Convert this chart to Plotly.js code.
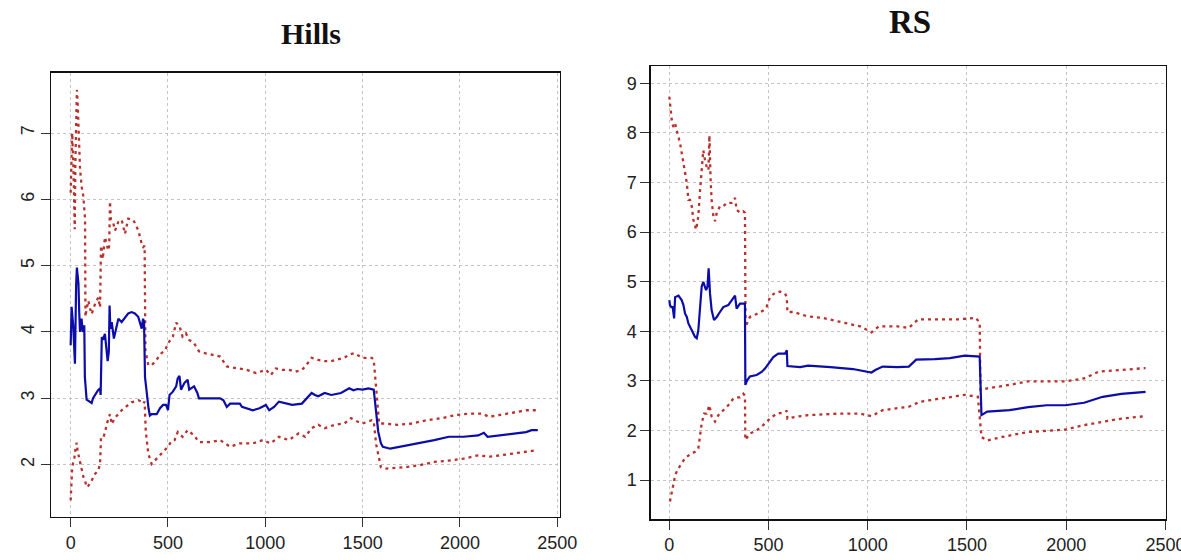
<!DOCTYPE html>
<html>
<head>
<meta charset="utf-8">
<script src="https://cdn.plot.ly/plotly-3.0.1.min.js"></script>
<style>html,body{margin:0;padding:0;background:#fff;}#chart{width:1181px;height:560px;}</style>
</head>
<body>
<div id="chart"></div>
<script>
// ---------- Hills panel ----------
const panelTitles = ["Hills", "RS"];
const xTickVals = [0, 500, 1000, 1500, 2000, 2500];
const hillsYTicks = [2, 3, 4, 5, 6, 7];
const rsYTicks = [1, 2, 3, 4, 5, 6, 7, 8, 9];

const hillsEstX = [0,2,5,10,13,22,24,28,32,36,40,44,48,56,62,70,73,82,95,108,115,125,140,151,154,160,168,176,183,190,196,200,204,211,222,236,245,262,279,296,313,330,347,358,365,372,377,382,390,400,407,416,442,459,475,490,500,508,525,542,550,559,567,584,601,609,634,651,659,700,740,768,785,802,819,869,880,903,936,970,1003,1020,1045,1070,1104,1138,1188,1205,1238,1255,1272,1305,1339,1389,1431,1453,1473,1500,1530,1557,1566,1580,1594,1604,1642,1680,1717,1792,1868,1943,2019,2094,2123,2142,2208,2283,2340,2368,2400];
const hillsEstY = [3.8,4.15,4.38,4.2,4.1,3.52,4.2,4.7,4.97,4.85,4.73,4.3,4.0,4.2,4.0,4.1,3.32,2.98,2.96,2.93,3.0,3.05,3.12,3.15,3.05,3.92,3.9,3.97,3.7,3.56,3.7,4.4,4.05,4.15,3.9,4.1,4.2,4.15,4.22,4.28,4.3,4.28,4.23,4.12,4.05,4.2,4.15,3.32,3.07,2.85,2.74,2.76,2.76,2.85,2.9,2.9,2.82,3.05,3.1,3.18,3.3,3.34,3.13,3.23,3.28,3.13,3.18,3.08,3.0,3.0,2.99,3.0,2.97,2.87,2.92,2.92,2.87,2.85,2.82,2.85,2.9,2.82,2.87,2.95,2.92,2.9,2.92,2.97,3.08,3.05,3.03,3.08,3.05,3.08,3.15,3.12,3.14,3.13,3.15,3.13,2.9,2.5,2.32,2.27,2.24,2.26,2.29,2.32,2.37,2.42,2.42,2.44,2.48,2.42,2.44,2.47,2.49,2.52,2.52];

const hillsUpX = [0,3,8,14,21,24,28,32,36,39,44,48,56,65,74,76,82,91,100,108,125,142,151,156,165,176,193,198,202,207,219,228,245,262,279,296,322,348,365,373,380,384,399,416,433,450,466,485,500,525,542,559,575,592,609,634,659,690,718,768,802,852,903,953,1003,1028,1054,1087,1121,1154,1188,1205,1238,1272,1305,1339,1372,1406,1431,1456,1500,1547,1557,1566,1585,1604,1679,1755,1830,1906,1981,2057,2113,2151,2208,2283,2340,2400];
const hillsUpY = [6.1,6.6,7.0,6.5,5.55,6.5,7.3,7.65,7.45,7.2,6.8,6.47,6.2,6.05,5.7,4.23,4.35,4.47,4.35,4.27,4.42,4.52,4.37,5.3,5.1,5.43,5.23,5.3,5.97,5.69,5.64,5.53,5.66,5.69,5.48,5.71,5.69,5.53,5.33,5.28,5.3,3.72,3.5,3.5,3.55,3.62,3.68,3.72,3.83,3.93,4.14,4.09,3.93,3.98,3.88,3.83,3.71,3.68,3.66,3.63,3.48,3.45,3.43,3.38,3.43,3.35,3.45,3.43,3.43,3.4,3.43,3.48,3.61,3.58,3.56,3.56,3.58,3.61,3.66,3.68,3.61,3.61,3.58,3.3,2.62,2.62,2.6,2.62,2.67,2.7,2.75,2.77,2.77,2.72,2.75,2.78,2.82,2.82];

const hillsLoX = [0,2,8,14,19,25,31,36,39,48,56,65,74,82,91,100,108,125,142,151,156,168,178,185,195,202,211,228,245,262,279,313,348,365,373,380,386,399,416,433,459,485,500,519,534,550,575,601,634,659,718,768,819,869,936,987,1028,1070,1121,1171,1205,1238,1272,1305,1356,1406,1440,1473,1500,1547,1557,1570,1594,1623,1717,1792,1868,1943,2019,2094,2151,2208,2283,2340,2400];
const hillsLoY = [1.46,1.6,1.95,2.05,2.1,2.25,2.33,2.2,2.16,2.06,1.91,1.82,1.76,1.66,1.68,1.72,1.76,1.86,1.91,2.01,2.41,2.41,2.5,2.61,2.72,2.76,2.61,2.71,2.76,2.82,2.86,2.94,2.97,2.95,2.92,2.95,2.5,2.16,2.01,2.06,2.14,2.21,2.27,2.36,2.37,2.49,2.42,2.52,2.44,2.34,2.34,2.37,2.27,2.32,2.32,2.37,2.32,2.42,2.37,2.47,2.42,2.55,2.6,2.55,2.6,2.62,2.7,2.65,2.62,2.67,2.65,2.3,1.96,1.94,1.96,1.99,2.04,2.06,2.09,2.14,2.12,2.14,2.17,2.19,2.22];

// ---------- RS panel ----------
const rsEstX = [0,3,10,17,24,27,29,46,62,71,79,88,96,113,129,138,146,155,163,171,185,192,198,205,213,225,239,255,272,297,314,331,339,356,381,383,393,406,440,465,482,499,524,549,583,592,595,659,699,812,925,1019,1038,1075,1150,1207,1244,1338,1414,1489,1564,1573,1602,1714,1808,1902,1996,2090,2184,2278,2400];
const rsEstY = [4.63,4.53,4.49,4.49,4.26,4.6,4.69,4.72,4.63,4.53,4.36,4.29,4.16,4.02,3.89,3.86,4.02,4.49,4.9,5.0,4.83,4.9,5.27,4.76,4.43,4.23,4.29,4.39,4.49,4.53,4.63,4.72,4.46,4.56,4.56,2.92,3.02,3.09,3.12,3.18,3.25,3.35,3.48,3.55,3.55,3.62,3.3,3.28,3.31,3.28,3.24,3.17,3.22,3.29,3.28,3.29,3.43,3.44,3.46,3.51,3.49,2.31,2.38,2.41,2.47,2.51,2.51,2.56,2.68,2.74,2.78];

const rsUpX = [0,8,12,20,29,34,37,54,71,88,96,104,113,121,135,146,155,163,171,180,188,197,202,208,213,222,230,239,255,272,289,314,331,339,356,373,381,384,406,440,473,490,507,533,558,583,592,595,625,699,774,850,962,1019,1056,1150,1207,1254,1338,1451,1545,1564,1568,1602,1714,1808,1902,1996,2090,2165,2278,2372,2400];
const rsUpY = [8.73,8.4,8.26,8.12,8.19,8.1,8.06,7.79,7.39,6.99,6.65,6.65,6.52,6.25,6.05,6.32,6.85,7.25,7.65,7.45,7.32,7.25,7.95,7.05,6.65,6.32,6.22,6.39,6.52,6.52,6.59,6.59,6.69,6.45,6.39,6.42,6.39,4.09,4.29,4.35,4.42,4.49,4.69,4.78,4.8,4.76,4.69,4.39,4.39,4.3,4.27,4.2,4.1,3.98,4.1,4.1,4.07,4.24,4.24,4.24,4.27,4.17,2.82,2.85,2.92,2.99,2.99,2.99,3.05,3.19,3.22,3.26,3.26];

const rsLoX = [3,17,30,46,62,79,104,129,146,155,163,175,188,202,213,230,247,272,297,322,339,356,373,381,383,406,440,473,507,540,583,592,595,642,699,850,962,1019,1075,1207,1263,1376,1489,1555,1573,1602,1677,1808,1902,1996,2090,2184,2278,2400];
const rsLoY = [0.57,0.84,1.11,1.24,1.34,1.44,1.52,1.57,1.64,1.94,2.14,2.34,2.34,2.51,2.28,2.18,2.31,2.41,2.51,2.64,2.67,2.67,2.74,2.7,1.81,1.94,2.0,2.11,2.24,2.34,2.37,2.4,2.24,2.28,2.31,2.34,2.34,2.29,2.41,2.48,2.58,2.65,2.72,2.68,1.87,1.8,1.87,1.97,2.0,2.02,2.11,2.18,2.24,2.29];

const blue = '#0c0ca8';
const red = '#b8312c';
const estLine = {color: blue, width: 2.2};
const ciLine = {color: red, width: 2.3, dash: '3px,4px'};

const traces = [
  {x: hillsUpX, y: hillsUpY, type: 'scatter', mode: 'lines', line: ciLine, xaxis: 'x', yaxis: 'y'},
  {x: hillsLoX, y: hillsLoY, type: 'scatter', mode: 'lines', line: ciLine, xaxis: 'x', yaxis: 'y'},
  {x: hillsEstX, y: hillsEstY, type: 'scatter', mode: 'lines', line: estLine, xaxis: 'x', yaxis: 'y'},
  {x: rsUpX, y: rsUpY, type: 'scatter', mode: 'lines', line: ciLine, xaxis: 'x2', yaxis: 'y2'},
  {x: rsLoX, y: rsLoY, type: 'scatter', mode: 'lines', line: ciLine, xaxis: 'x2', yaxis: 'y2'},
  {x: rsEstX, y: rsEstY, type: 'scatter', mode: 'lines', line: estLine, xaxis: 'x2', yaxis: 'y2'}
];

const tickFont = {family: 'Liberation Sans, Arial, sans-serif', size: 18, color: '#222'};
function axisBase(extra) {
  return Object.assign({
    showline: true, mirror: true, linecolor: '#111', linewidth: 1.3,
    ticks: 'outside', ticklen: 9, tickwidth: 1, tickcolor: '#333',
    showgrid: true, gridcolor: '#c4c4c4', griddash: 'dot', gridwidth: 1,
    zeroline: false, tickfont: tickFont, tickmode: 'array', fixedrange: true,
    ticklabeloverflow: 'allow'
  }, extra);
}

const layout = {
  width: 1181, height: 560,
  margin: {l: 0, r: 0, t: 0, b: 0},
  paper_bgcolor: '#fff', plot_bgcolor: '#fff',
  showlegend: false,
  xaxis: axisBase({domain: [51/1181, 560/1181], range: [-101, 2514], tickvals: xTickVals, ticktext: xTickVals.map(String), anchor: 'y'}),
  yaxis: axisBase({domain: [43/560, 487.3/560], range: [1.21, 7.91], tickvals: hillsYTicks, ticktext: hillsYTicks.map(String), tickangle: -90, anchor: 'x'}),
  xaxis2: axisBase({domain: [650.7/1181, 1166/1181], range: [-94, 2503], tickvals: xTickVals, ticktext: xTickVals.map(String), anchor: 'y2'}),
  yaxis2: axisBase({domain: [40.7/560, 494/560], range: [0.21, 9.35], tickvals: rsYTicks, ticktext: rsYTicks.map(String), anchor: 'x2'}),
  annotations: [
    {text: '<b>' + panelTitles[0] + '</b>', xref: 'paper', yref: 'paper', x: 311/1181, y: 1 - 33/560, xanchor: 'center', yanchor: 'middle', showarrow: false, font: {family: 'Liberation Serif, Times New Roman, serif', size: 30, color: '#111'}},
    {text: '<b>' + panelTitles[1] + '</b>', xref: 'paper', yref: 'paper', x: 910/1181, y: 1 - 22.5/560, xanchor: 'center', yanchor: 'middle', showarrow: false, font: {family: 'Liberation Serif, Times New Roman, serif', size: 33, color: '#111'}}
  ]
};

Plotly.newPlot('chart', traces, layout, {staticPlot: true, displayModeBar: false});
</script>
</body>
</html>
